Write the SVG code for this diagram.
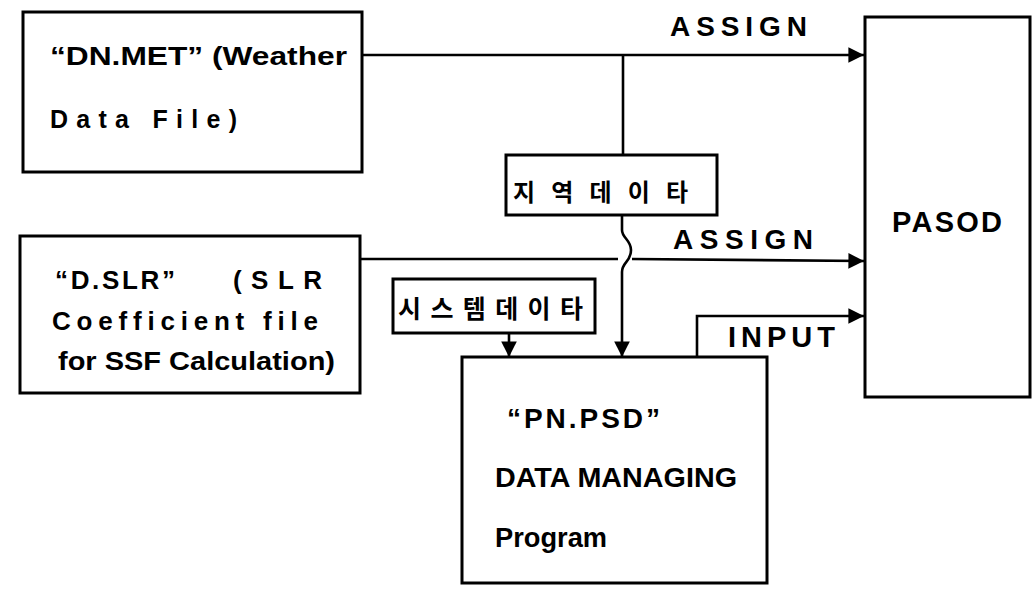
<svg xmlns="http://www.w3.org/2000/svg" width="1033" height="592" viewBox="0 0 1033 592">
<defs>
<style>
.box{fill:none;stroke:#000;stroke-width:3}
.ln{fill:none;stroke:#000;stroke-width:2.6}
.t{font-family:"Liberation Sans",Arial,sans-serif;font-weight:bold;fill:#000}
.k{font-family:"Noto Sans CJK KR","Noto Sans",sans-serif;font-weight:bold;fill:#000}
</style>
<marker id="ah" viewBox="0 0 10 10" refX="10" refY="5" markerWidth="7" markerHeight="6" markerUnits="strokeWidth" orient="auto">
<path d="M0,0 L10,5 L0,10 z" fill="#000"/>
</marker>
</defs>
<rect width="1033" height="592" fill="#fff"/>
<g id="connectors">
<path class="ln" d="M362,55 H864" marker-end="url(#ah)"/>
<path class="ln" d="M623,55 V155"/>
<path class="ln" d="M360,259 L618,259"/>
<path class="ln" d="M632,259 L864,261" marker-end="url(#ah)"/>
<path class="ln" d="M622,215 V230 C622,238 631,240 631,250 C631,262 622,262 622,272 V357" marker-end="url(#ah)"/>
<path class="ln" d="M509,333 V357" marker-end="url(#ah)"/>
<path class="ln" d="M697,357 V316 H864" marker-end="url(#ah)"/>
<text class="t" x="670" y="36" font-size="28" textLength="137" lengthAdjust="spacing">ASSIGN</text>
<text class="t" x="673" y="249" font-size="28" textLength="140" lengthAdjust="spacing">ASSIGN</text>
<text class="t" x="728" y="347" font-size="29" textLength="107" lengthAdjust="spacing">INPUT</text>
</g>
<g id="dnmet">
<rect class="box" x="23" y="12" width="339" height="160"/>
<text class="t" x="50" y="65" font-size="25" textLength="297" lengthAdjust="spacingAndGlyphs">“DN.MET” (Weather</text>
<text class="t" x="50" y="128" font-size="25" textLength="187" lengthAdjust="spacing">Data File)</text>
</g>
<g id="dslr">
<rect class="box" x="20" y="236" width="340" height="157"/>
<text class="t" x="55" y="289" font-size="26" textLength="120" lengthAdjust="spacing">“D.SLR”</text>
<text class="t" x="233" y="289" font-size="26" textLength="89" lengthAdjust="spacing">(SLR</text>
<text class="t" x="52" y="330" font-size="26" textLength="266" lengthAdjust="spacing">Coefficient file</text>
<text class="t" x="58" y="370" font-size="26" textLength="277" lengthAdjust="spacingAndGlyphs">for SSF Calculation)</text>
</g>
<g id="region-data">
<rect class="box" x="506" y="155" width="211" height="60"/>
<text class="k" x="513" y="201" font-size="24" textLength="175" lengthAdjust="spacing">지역데이타</text>
</g>
<g id="system-data">
<rect class="box" x="393" y="279" width="202" height="54"/>
<text class="k" x="398" y="318" font-size="25" textLength="185" lengthAdjust="spacing">시스템데이타</text>
</g>
<g id="pnpsd">
<rect class="box" x="462" y="357" width="305" height="226"/>
<text class="t" x="507" y="428" font-size="28" textLength="153" lengthAdjust="spacing">“PN.PSD”</text>
<text class="t" x="495" y="487" font-size="27" textLength="242" lengthAdjust="spacingAndGlyphs">DATA MANAGING</text>
<text class="t" x="495" y="547" font-size="27" textLength="112" lengthAdjust="spacingAndGlyphs">Program</text>
</g>
<g id="pasod">
<rect class="box" x="865" y="17" width="165" height="380"/>
<text class="t" x="892" y="232" font-size="29" textLength="110" lengthAdjust="spacing">PASOD</text>
</g>
</svg>
